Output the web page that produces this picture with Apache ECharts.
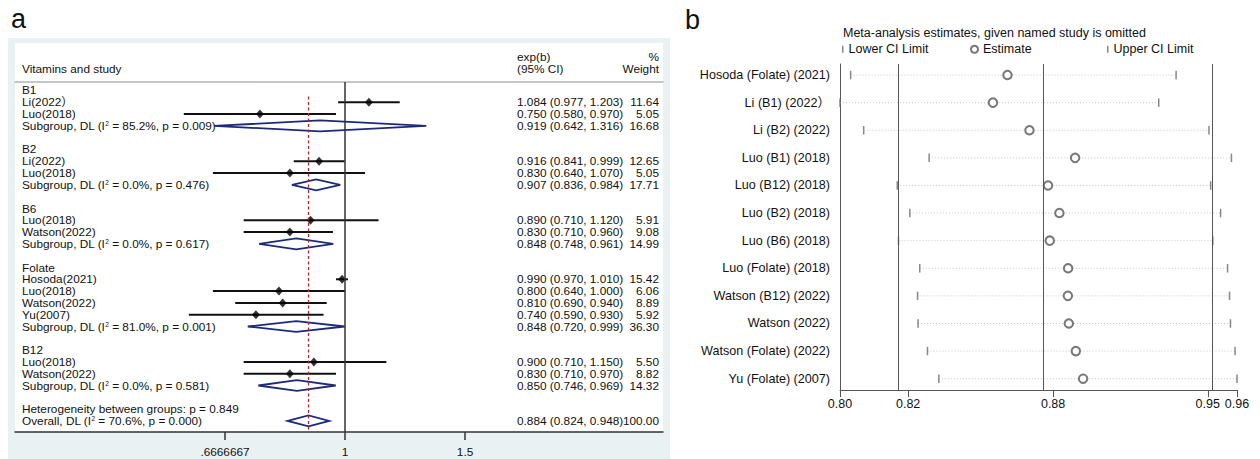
<!DOCTYPE html>
<html><head><meta charset="utf-8">
<script src="https://cdn.jsdelivr.net/npm/echarts@6/dist/echarts.min.js"></script>
<style>html,body{margin:0;padding:0;background:#fff}#c{width:1260px;height:459px}</style>
</head><body><div id="c"></div>
<script>
const FONT = "'Liberation Sans', Arial, 'Noto Sans CJK SC', sans-serif";

// ---------- Panel a data ----------
const groupRows = [0, 5, 10, 15, 22];
const groupNames = ['B1', 'B2', 'B6', 'Folate', 'B12'];

const studyRows = [1, 2, 6, 7, 11, 12, 16, 17, 18, 19, 23, 24];
const studyNames = ['Li(2022）', 'Luo(2018)', 'Li(2022)', 'Luo(2018)', 'Luo(2018)', 'Watson(2022)',
  'Hosoda(2021)', 'Luo(2018)', 'Watson(2022)', 'Yu(2007)', 'Luo(2018)', 'Watson(2022)'];
const studyEst = [1.084, 0.750, 0.916, 0.830, 0.890, 0.830, 0.990, 0.800, 0.810, 0.740, 0.900, 0.830];
const studyLo  = [0.977, 0.580, 0.841, 0.640, 0.710, 0.710, 0.970, 0.640, 0.690, 0.590, 0.710, 0.710];
const studyHi  = [1.203, 0.970, 0.999, 1.070, 1.120, 0.960, 1.010, 1.000, 0.940, 0.930, 1.150, 0.970];
const studyWeight = [11.64, 5.05, 12.65, 5.05, 5.91, 9.08, 15.42, 6.06, 8.89, 5.92, 5.50, 8.82];

const poolRows = [3, 8, 13, 20, 25, 28];
const poolNames = ['Subgroup', 'Subgroup', 'Subgroup', 'Subgroup', 'Subgroup', 'Overall'];
const poolI2 = ['85.2', '0.0', '0.0', '81.0', '0.0', '70.6'];
const poolP  = ['0.009', '0.476', '0.617', '0.001', '0.581', '0.000'];
const poolEst = [0.919, 0.907, 0.848, 0.848, 0.850, 0.884];
const poolLo  = [0.642, 0.836, 0.748, 0.720, 0.746, 0.824];
const poolHi  = [1.316, 0.984, 0.961, 0.999, 0.969, 0.948];
const poolWeight = [16.68, 17.71, 14.99, 36.30, 14.32, 100.00];

const hetRow = 27;
const hetText = 'Heterogeneity between groups: p = 0.849';

const aTickValues = [2 / 3, 1, 1.5];
const aTickLabels = ['.6666667', '1', '1.5'];

// ---------- Panel b data ----------
const bNames = ['Hosoda (Folate) (2021)', 'Li (B1) (2022）', 'Li (B2) (2022)', 'Luo (B1) (2018)',
  'Luo (B12) (2018)', 'Luo (B2) (2018)', 'Luo (B6) (2018)', 'Luo (Folate) (2018)',
  'Watson (B12) (2022)', 'Watson (2022)', 'Watson (Folate) (2022)', 'Yu (Folate) (2007)'];
const bLower = [0.8002, 0.7958, 0.8056, 0.8327, 0.8195, 0.8247, 0.8200, 0.8288, 0.8279, 0.8281, 0.8320, 0.8367];
const bEst   = [0.8651, 0.8591, 0.8742, 0.8931, 0.8819, 0.8866, 0.8826, 0.8902, 0.8901, 0.8905, 0.8934, 0.8964];
const bUpper = [0.9349, 0.9277, 0.9485, 0.9578, 0.9492, 0.9533, 0.9501, 0.9562, 0.9570, 0.9574, 0.9593, 0.9601];
const bRefLines = [0.824, 0.884, 0.948];
const bTickValues = [0.7958, 0.824, 0.884, 0.948, 0.9601];
const bTickLabels = ['0.80', '0.82', '0.88', '0.95', '0.96'];

// ---------- build ----------
const leftLabel = {};
groupRows.forEach((r, i) => leftLabel[r] = groupNames[i]);
studyRows.forEach((r, i) => leftLabel[r] = studyNames[i]);
poolRows.forEach((r, i) => leftLabel[r] = `{t|${poolNames[i]}, DL (I}{s|2}{t| = ${poolI2[i]}%, p = ${poolP[i]})}`);
leftLabel[hetRow] = hetText;

const ciLabel = {}, wLabel = {};
const fmtCI = (e, l, h) => `${e.toFixed(3)} (${l.toFixed(3)}, ${h.toFixed(3)})`;
studyRows.forEach((r, i) => { ciLabel[r] = fmtCI(studyEst[i], studyLo[i], studyHi[i]); wLabel[r] = studyWeight[i].toFixed(2); });
poolRows.forEach((r, i) => { ciLabel[r] = fmtCI(poolEst[i], poolLo[i], poolHi[i]); wLabel[r] = poolWeight[i].toFixed(2); });

const labelRows = Object.keys(leftLabel).map(Number);
const valueRows = Object.keys(ciLabel).map(Number);
const overallEst = poolEst[poolEst.length - 1];

const aRowMin = -0.72, aRowMax = 28.94;
const aXMin = 0.3279, aXMax = 2.928;
const bRowMin = -0.4, bRowMax = 11.41;

const FS = 11.8;
const txt = { color: '#111', fontFamily: FONT, fontSize: FS, lineHeight: 11 };
const rich = { t: { color: '#111', fontFamily: FONT, fontSize: FS, lineHeight: 11 },
               s: { color: '#111', fontFamily: FONT, fontSize: 6.5, lineHeight: 5, verticalAlign: 'top' } };

function nearestLabel(v, vals, labels) {
  let best = 0;
  vals.forEach((t, i) => { if (Math.abs(Math.log(t) - Math.log(v)) < Math.abs(Math.log(vals[best]) - Math.log(v))) best = i; });
  return labels[best];
}

const chart = echarts.init(document.getElementById('c'), null, { renderer: 'svg' });
chart.setOption({
  animation: false,
  backgroundColor: '#fff',
  graphic: [
    { type: 'rect', z: -10, shape: { x: 8, y: 38, width: 662, height: 421 }, style: { fill: '#e9f1f3' } },
    { type: 'rect', z: -9, shape: { x: 15, y: 43, width: 648, height: 389 }, style: { fill: '#fff' } },
    { type: 'text', x: 11, y: 19, style: { text: 'a', fontSize: 27, fontFamily: FONT, fill: '#111', verticalAlign: 'middle' } },
    { type: 'text', x: 685, y: 20, style: { text: 'b', fontSize: 27, fontFamily: FONT, fill: '#111', verticalAlign: 'middle' } },
    { type: 'text', x: 22, y: 69, style: { text: 'Vitamins and study', fontSize: FS, fontFamily: FONT, fill: '#111', verticalAlign: 'middle' } },
    { type: 'text', x: 517, y: 57, style: { text: 'exp(b)', fontSize: FS, fontFamily: FONT, fill: '#111', verticalAlign: 'middle' } },
    { type: 'text', x: 517, y: 69, style: { text: '(95% CI)', fontSize: FS, fontFamily: FONT, fill: '#111', verticalAlign: 'middle' } },
    { type: 'text', x: 659, y: 57, style: { text: '%', fontSize: FS, fontFamily: FONT, fill: '#111', align: 'right', verticalAlign: 'middle' } },
    { type: 'text', x: 659, y: 69, style: { text: 'Weight', fontSize: FS, fontFamily: FONT, fill: '#111', align: 'right', verticalAlign: 'middle' } },
    { type: 'text', x: 843, y: 33, style: { text: 'Meta-analysis estimates, given named study is omitted', fontSize: 12.5, fontFamily: FONT, fill: '#111', verticalAlign: 'middle' } }
  ],
  legend: [
    { data: [{ name: 'Lower CI Limit', icon: 'rect' }], left: 842, top: 43, padding: 0, itemWidth: 1.5, itemHeight: 7, selectedMode: false,
      textStyle: { color: '#111', fontFamily: FONT, fontSize: 12.5 } },
    { data: [{ name: 'Estimate', icon: 'emptyCircle' }], left: 970, top: 43, padding: 0, itemWidth: 7, itemHeight: 7, selectedMode: false,
      textStyle: { color: '#111', fontFamily: FONT, fontSize: 12.5 } },
    { data: [{ name: 'Upper CI Limit', icon: 'rect' }], left: 1107, top: 43, padding: 0, itemWidth: 1.5, itemHeight: 7, selectedMode: false,
      textStyle: { color: '#111', fontFamily: FONT, fontSize: 12.5 } }
  ],
  grid: [
    { left: 15, width: 648, top: 82, height: 350, outerBoundsMode: 'none', containLabel: false },
    { left: 840, width: 397, top: 64, height: 326, outerBoundsMode: 'none', containLabel: false }
  ],
  xAxis: [
    { gridIndex: 0, type: 'log', logBase: 1.5, min: aXMin, max: aXMax, position: 'bottom',
      axisLine: { show: true, onZero: false, lineStyle: { color: '#333', width: 1.5 } },
      axisTick: { show: true, length: 8, customValues: aTickValues, lineStyle: { color: '#333', width: 1.5 } },
      axisLabel: { show: true, margin: 14, showMinLabel: true, showMaxLabel: true, customValues: aTickValues,
        formatter: v => nearestLabel(v, aTickValues, aTickLabels), color: '#111', fontFamily: FONT, fontSize: FS },
      splitLine: { show: false } },
    { gridIndex: 0, type: 'value', min: 0, max: 1, position: 'top',
      axisLine: { show: true, onZero: false, lineStyle: { color: '#b4b4b4', width: 1.5 } },
      axisTick: { show: false }, axisLabel: { show: false }, splitLine: { show: false } },
    { gridIndex: 1, type: 'value', min: bTickValues[0], max: bTickValues[bTickValues.length - 1], position: 'bottom',
      axisLine: { show: true, onZero: false, lineStyle: { color: '#555', width: 1 } },
      axisTick: { show: true, length: 7, customValues: bTickValues, lineStyle: { color: '#555', width: 1 } },
      axisLabel: { show: true, margin: 8, showMinLabel: true, showMaxLabel: true, customValues: bTickValues,
        formatter: v => { let b = 0; bTickValues.forEach((t, i) => { if (Math.abs(t - v) < Math.abs(bTickValues[b] - v)) b = i; }); return bTickLabels[b]; },
        color: '#111', fontFamily: FONT, fontSize: 12.5 },
      splitLine: { show: false } }
  ],
  yAxis: [
    { gridIndex: 0, type: 'value', inverse: true, min: aRowMin, max: aRowMax, position: 'left',
      axisLine: { show: false, onZero: false }, axisTick: { show: false }, splitLine: { show: false },
      axisLabel: { show: true, inside: true, margin: 7, showMinLabel: true, showMaxLabel: true, customValues: labelRows,
        formatter: v => leftLabel[Math.round(v)] || '', ...txt, rich } },
    { gridIndex: 0, type: 'value', inverse: true, min: aRowMin, max: aRowMax, position: 'right',
      axisLine: { show: false, onZero: false }, axisTick: { show: false }, splitLine: { show: false },
      axisLabel: { show: true, inside: true, margin: 146, align: 'left', showMinLabel: true, showMaxLabel: true, customValues: valueRows,
        formatter: v => ciLabel[Math.round(v)] || '', ...txt } },
    { gridIndex: 0, type: 'value', inverse: true, min: aRowMin, max: aRowMax, position: 'right',
      axisLine: { show: false, onZero: false }, axisTick: { show: false }, splitLine: { show: false },
      axisLabel: { show: true, inside: true, margin: 4, align: 'right', showMinLabel: true, showMaxLabel: true, customValues: valueRows,
        formatter: v => wLabel[Math.round(v)] || '', ...txt } },
    { gridIndex: 1, type: 'value', inverse: true, min: bRowMin, max: bRowMax, position: 'left',
      axisLine: { show: true, onZero: false, lineStyle: { color: '#555', width: 1 } }, axisTick: { show: false }, splitLine: { show: false },
      axisLabel: { show: true, margin: 10, showMinLabel: true, showMaxLabel: true, customValues: bNames.map((n, i) => i),
        formatter: v => bNames[Math.round(v)] || '', color: '#111', fontFamily: FONT, fontSize: 12.6 } }
  ],
  series: [
    // ----- panel a -----
    { type: 'custom', name: 'ci', xAxisIndex: 0, yAxisIndex: 0, silent: true,
      data: studyRows.map((r, i) => [studyLo[i], studyHi[i], r]),
      encode: { x: [0, 1], y: 2 },
      renderItem: (p, api) => {
        const a = api.coord([api.value(0), api.value(2)]);
        const b = api.coord([api.value(1), api.value(2)]);
        return { type: 'line', shape: { x1: a[0], y1: a[1], x2: b[0], y2: b[1] }, style: { stroke: '#111', lineWidth: 2 } };
      } },
    { type: 'line', name: 'overall', xAxisIndex: 0, yAxisIndex: 0, silent: true, symbol: 'none',
      data: [[overallEst, 0.5], [overallEst, aRowMax]],
      lineStyle: { color: '#b5252a', width: 1.3, type: [3, 2.5] } },
    { type: 'custom', name: 'pooled', xAxisIndex: 0, yAxisIndex: 0, silent: true,
      data: poolRows.map((r, i) => [poolLo[i], poolEst[i], poolHi[i], r]),
      encode: { x: [0, 1, 2], y: 3 },
      renderItem: (p, api) => {
        const r = api.value(3);
        const L = api.coord([api.value(0), r]);
        const C = api.coord([api.value(1), r]);
        const R = api.coord([api.value(2), r]);
        const h = api.size([0, 1], [1, r])[1] * 0.46;
        return { type: 'polygon', shape: { points: [L, [C[0], C[1] - h], R, [C[0], C[1] + h]] },
          style: { fill: 'none', stroke: '#1d2a7c', lineWidth: 1.8 } };
      } },
    { type: 'scatter', name: 'est', xAxisIndex: 0, yAxisIndex: 0, silent: true, symbol: 'diamond', symbolSize: [8, 9],
      itemStyle: { color: '#000' },
      data: studyRows.map((r, i) => [studyEst[i], r]),
      markLine: { silent: true, symbol: ['none', 'none'], label: { show: false },
        lineStyle: { color: '#333', width: 1.5, type: 'solid' }, data: [{ xAxis: 1 }] } },
    // ----- panel b -----
    { type: 'custom', name: 'range', xAxisIndex: 2, yAxisIndex: 3, silent: true,
      data: bNames.map((n, i) => [bLower[i], bUpper[i], i]),
      encode: { x: [0, 1], y: 2 },
      renderItem: (p, api) => {
        const a = api.coord([api.value(0), api.value(2)]);
        const b = api.coord([api.value(1), api.value(2)]);
        return { type: 'line', shape: { x1: a[0], y1: a[1], x2: b[0], y2: b[1] }, style: { stroke: '#c4c4c4', lineWidth: 1, lineDash: [1, 2] } };
      },
      markLine: { silent: true, symbol: ['none', 'none'], label: { show: false },
        lineStyle: { color: '#555', width: 1, type: 'solid' }, data: bRefLines.map(v => ({ xAxis: v })) } },
    { type: 'scatter', name: 'Lower CI Limit', xAxisIndex: 2, yAxisIndex: 3, silent: true, symbol: 'rect', symbolSize: [1.5, 8.5],
      itemStyle: { color: '#6a6a6a' }, data: bNames.map((n, i) => [bLower[i], i]) },
    { type: 'scatter', name: 'Upper CI Limit', xAxisIndex: 2, yAxisIndex: 3, silent: true, symbol: 'rect', symbolSize: [1.5, 8.5],
      itemStyle: { color: '#6a6a6a' }, data: bNames.map((n, i) => [bUpper[i], i]) },
    { type: 'scatter', name: 'Estimate', xAxisIndex: 2, yAxisIndex: 3, silent: true, symbol: 'emptyCircle', symbolSize: 8.5,
      itemStyle: { color: '#555', borderWidth: 1 }, data: bNames.map((n, i) => [bEst[i], i]) }
  ]
});
</script></body></html>
